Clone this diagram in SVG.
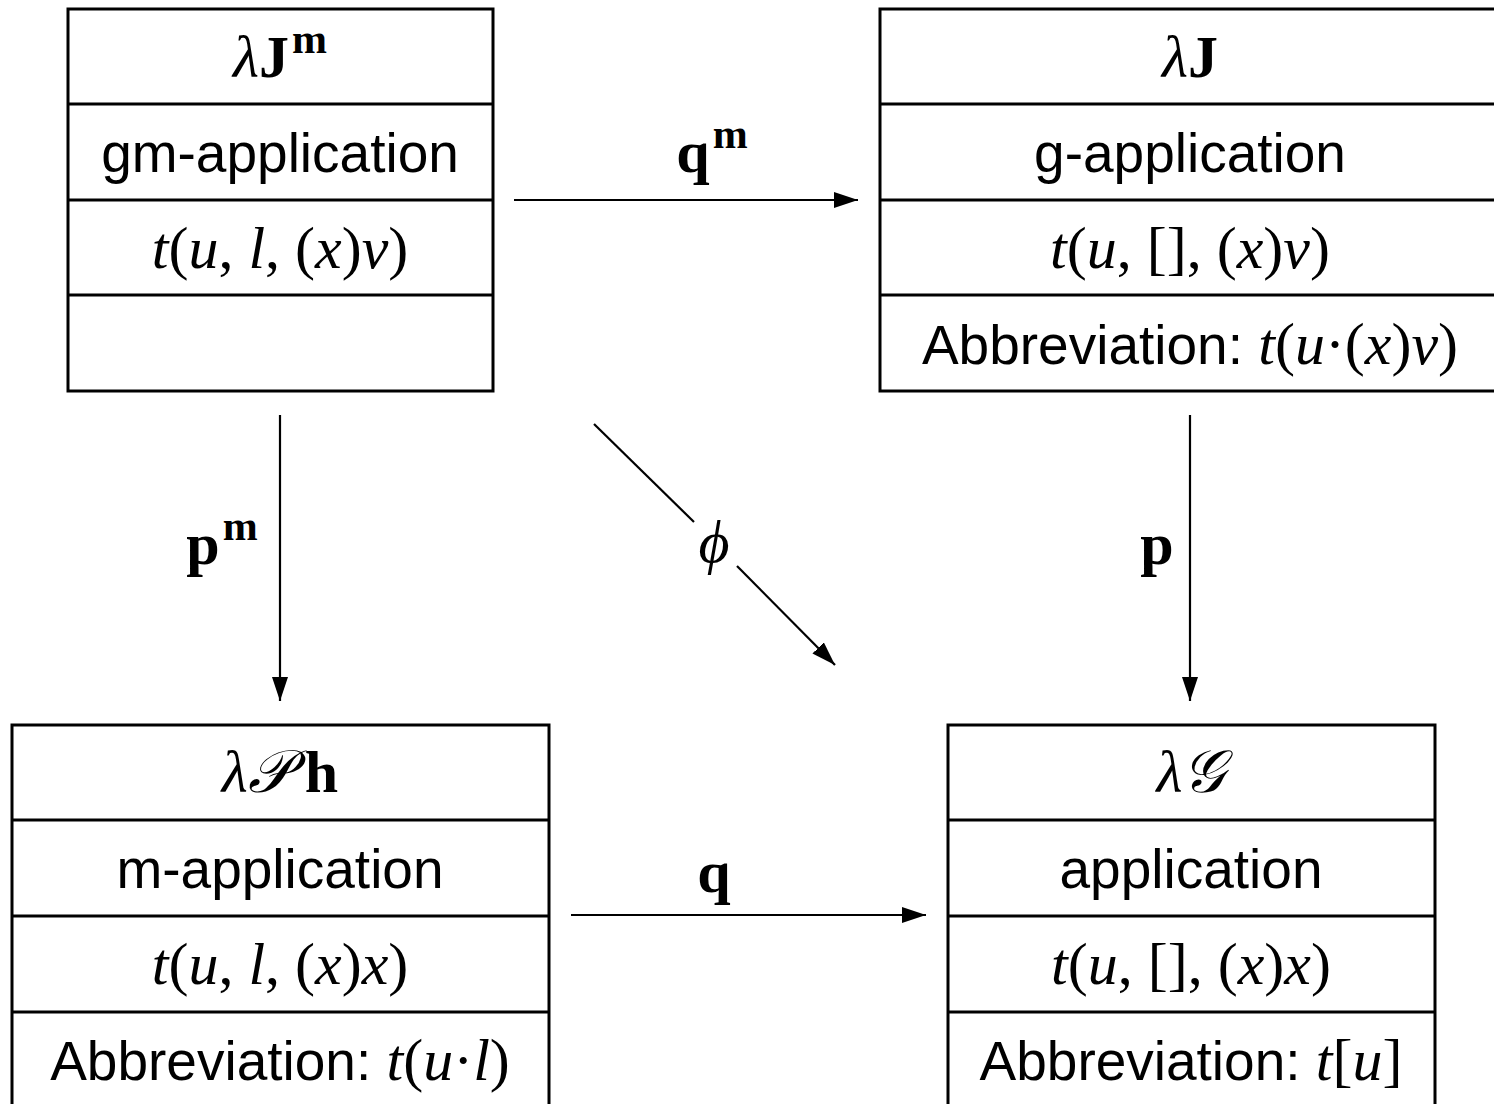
<svg xmlns="http://www.w3.org/2000/svg" width="1494" height="1104" viewBox="0 0 1494 1104">
<style>
.box{fill:none;stroke:#000;stroke-width:3}
.sep{stroke:#000;stroke-width:3}
.sans{font-family:"Liberation Sans",Arial,sans-serif;font-size:55px;text-anchor:middle}
.math{font-family:"Liberation Serif","DejaVu Serif",serif;font-size:60px;text-anchor:middle}
.m{font-family:"Liberation Serif","DejaVu Serif",serif;font-size:60px}
.i{font-style:italic}
.b{font-weight:bold}
.sup{font-weight:bold;font-size:42px}
.conn{stroke:#000;stroke-width:2.2;fill:none}
.arr{marker-end:url(#ah)}
</style>
<defs>
<marker id="ah" markerWidth="24" markerHeight="16" refX="24" refY="8" orient="auto" markerUnits="userSpaceOnUse"><path d="M0,0 L24,8 L0,16 Z" fill="#000"/></marker>
</defs>
<rect width="1494" height="1104" fill="#fff"/>
<g id="lambdaJm">
<rect class="box" x="68" y="9" width="425" height="382"/>
<line class="sep" x1="68" y1="104" x2="493" y2="104"/>
<line class="sep" x1="68" y1="200" x2="493" y2="200"/>
<line class="sep" x1="68" y1="295" x2="493" y2="295"/>
<text class="math" x="280" y="77"><tspan class="i">λ</tspan><tspan class="b">J</tspan><tspan class="sup" dx="3" dy="-24">m</tspan></text>
<text class="sans" x="280" y="172">gm-application</text>
<text class="math" x="280" y="268"><tspan class="i">t</tspan>(<tspan class="i">u</tspan>, <tspan class="i">l</tspan>, (<tspan class="i">x</tspan>)<tspan class="i">v</tspan>)</text>
</g>
<g id="lambdaJ">
<rect class="box" x="880" y="9" width="620" height="382"/>
<line class="sep" x1="880" y1="104" x2="1500" y2="104"/>
<line class="sep" x1="880" y1="200" x2="1500" y2="200"/>
<line class="sep" x1="880" y1="295" x2="1500" y2="295"/>
<text class="math" x="1190" y="77"><tspan class="i">λ</tspan><tspan class="b">J</tspan></text>
<text class="sans" x="1190" y="172">g-application</text>
<text class="math" x="1190" y="268"><tspan class="i">t</tspan>(<tspan class="i">u</tspan>, [], (<tspan class="i">x</tspan>)<tspan class="i">v</tspan>)</text>
<text class="sans" x="1190" y="364">Abbreviation: <tspan class="m"><tspan class="i">t</tspan>(<tspan class="i">u</tspan>·(<tspan class="i">x</tspan>)<tspan class="i">v</tspan>)</tspan></text>
</g>
<g id="lambdaPh">
<rect class="box" x="12" y="725" width="537" height="400"/>
<line class="sep" x1="12" y1="820" x2="549" y2="820"/>
<line class="sep" x1="12" y1="916" x2="549" y2="916"/>
<line class="sep" x1="12" y1="1012" x2="549" y2="1012"/>
<text class="math" x="280" y="792"><tspan class="i">λ𝒫</tspan><tspan class="b" dx="14">h</tspan></text>
<text class="sans" x="280" y="888">m-application</text>
<text class="math" x="280" y="984"><tspan class="i">t</tspan>(<tspan class="i">u</tspan>, <tspan class="i">l</tspan>, (<tspan class="i">x</tspan>)<tspan class="i">x</tspan>)</text>
<text class="sans" x="280" y="1080">Abbreviation: <tspan class="m"><tspan class="i">t</tspan>(<tspan class="i">u</tspan>·<tspan class="i">l</tspan>)</tspan></text>
</g>
<g id="lambdaG">
<rect class="box" x="948" y="725" width="487" height="400"/>
<line class="sep" x1="948" y1="820" x2="1435" y2="820"/>
<line class="sep" x1="948" y1="916" x2="1435" y2="916"/>
<line class="sep" x1="948" y1="1012" x2="1435" y2="1012"/>
<text class="math" x="1191" y="792"><tspan class="i">λ𝒢</tspan></text>
<text class="sans" x="1191" y="888">application</text>
<text class="math" x="1191" y="984"><tspan class="i">t</tspan>(<tspan class="i">u</tspan>, [], (<tspan class="i">x</tspan>)<tspan class="i">x</tspan>)</text>
<text class="sans" x="1191" y="1080">Abbreviation: <tspan class="m"><tspan class="i">t</tspan>[<tspan class="i">u</tspan>]</tspan></text>
</g>
<g id="connectors">
<line class="conn arr" x1="514" y1="200" x2="858" y2="200"/>
<line class="conn arr" x1="571" y1="915" x2="926" y2="915"/>
<line class="conn arr" x1="280" y1="415" x2="280" y2="701"/>
<line class="conn arr" x1="1190" y1="415" x2="1190" y2="701"/>
<line class="conn" x1="594" y1="424" x2="694" y2="522"/>
<line class="conn arr" x1="737" y1="566" x2="835" y2="665"/>
<text class="math" x="712" y="172"><tspan class="b">q</tspan><tspan class="sup" dx="3" dy="-24">m</tspan></text>
<text class="math" x="222" y="564"><tspan class="b">p</tspan><tspan class="sup" dx="3" dy="-24">m</tspan></text>
<text class="math i" x="714" y="562">ϕ</text>
<text class="math b" x="1157" y="564">p</text>
<text class="math b" x="714" y="892">q</text>
</g>
</svg>
